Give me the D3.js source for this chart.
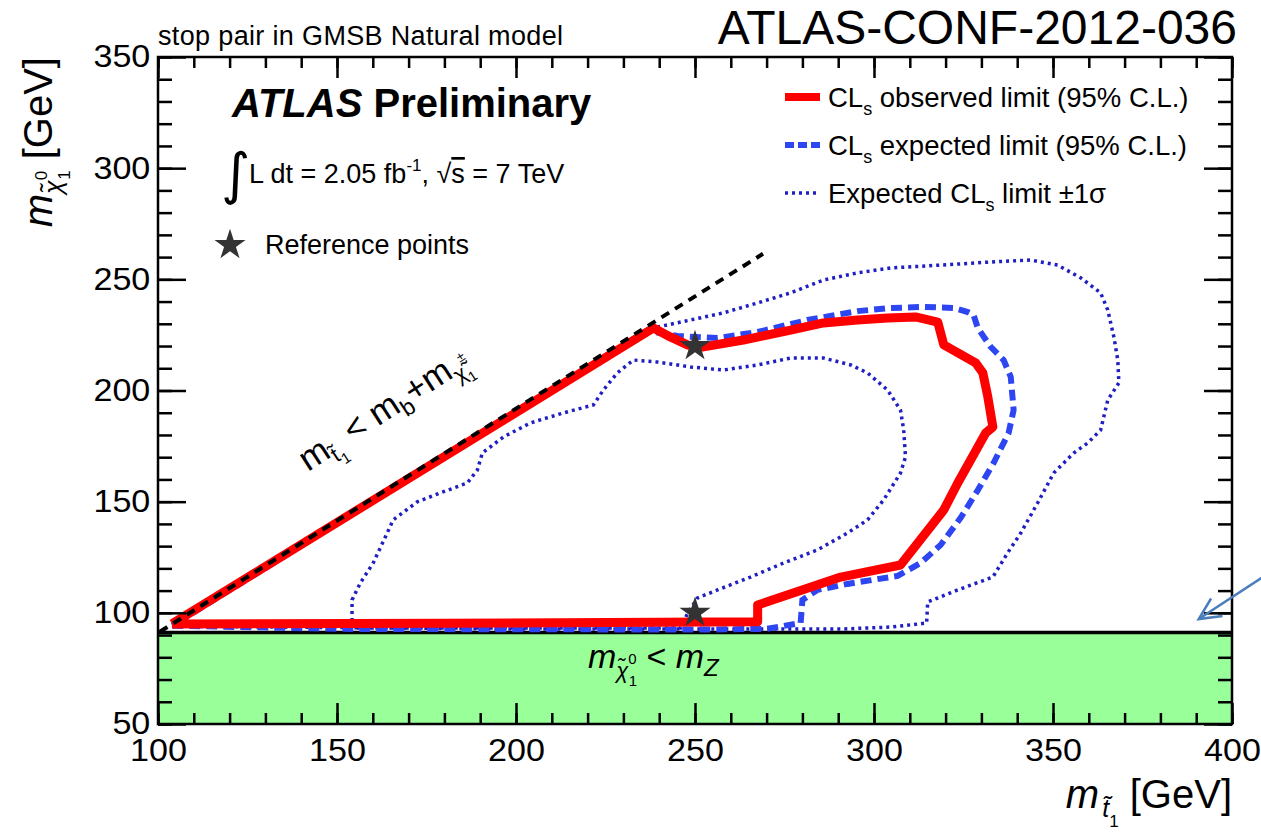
<!DOCTYPE html>
<html>
<head>
<meta charset="utf-8">
<script src="https://cdn.jsdelivr.net/npm/d3@7"></script>
<style>
body { margin: 0; background: #fff; }
svg { display: block; font-family: "Liberation Sans", Arial, Helvetica, sans-serif; }
</style>
</head>
<body>
<svg id="chart"></svg>
<script>
// axis ranges and labels
var xDomain = [100, 400];
var yDomain = [50, 350];
var xMajorTicks = [100, 150, 200, 250, 300, 350, 400];
var yMajorTicks = [50, 100, 150, 200, 250, 300, 350];

// Z mass (neutralino below this is excluded, green band)
var mZ = 91.2;

// kinematic limit m_stop = m_b + m_chargino
var kinematicLine = [[100.5, 91.5], [269, 261.5]];

// reference points (stars)
var referencePoints = [[250, 220], [250, 100]];

// observed CLs limit (red)
var observedLimit = [
  [103.9, 95.0], [180, 95.3], [267.5, 96.0], [267.5, 103.5], [290.7, 116.1],
  [307.4, 121.5], [319.5, 146.3], [323.4, 158.4], [331.2, 180.9], [333.2, 183.6],
  [331.8, 197.1], [330.4, 207.9], [328.4, 212.4], [319.5, 220.5], [317.8, 230.8],
  [311.6, 233.1], [303.8, 232.6], [295.4, 231.7], [285.9, 230.4], [276.7, 227.2],
  [263.5, 222.7], [252.4, 219.6], [247.9, 220.5], [243.1, 224.1], [238.4, 228.1],
  [103.9, 95.0]
];

// expected CLs limit (blue dashed)
var expectedLimit = [
  [104, 94.2], [150, 92.8], [200, 92.6], [255, 92.5], [270, 92.8], [279.5, 95.4],
  [280, 105.8], [284.2, 110.3], [292.6, 113.0], [306.6, 116.6], [313, 122.4],
  [318.6, 130.5], [324.2, 142.7], [329, 155.2], [333.4, 167.4], [337.6, 180.9],
  [339, 191.2], [338.2, 206.1], [336.2, 213.7], [332.6, 219.6], [329, 228.1],
  [327.8, 234], [326.2, 235.3], [322.3, 237.1], [313.9, 237.6], [304.6, 237.1],
  [295.4, 235.7], [281.4, 231.7], [267.5, 226.3], [256.3, 223.6], [245.1, 224.5],
  [240.3, 225.9], [236.5, 226.8], [104, 94.2]
];

// expected +1 sigma (outer dotted)
var expectedPlus1s = [
  [104, 94.0], [200, 92.7], [290.7, 92.7], [304.6, 93.6], [314.7, 95.4], [315, 104.9],
  [323.4, 110.3], [333.2, 116.1], [337.3, 126.9], [341, 135.9], [345.7, 149.4],
  [350.2, 162.9], [355.8, 171.9], [359.7, 176.4], [363.3, 182.2], [365.3, 195.7],
  [368.4, 203.4], [368.1, 213.7], [367, 224.1], [365.3, 236.2], [363.3, 243.9],
  [357.8, 250.6], [351.3, 256.4], [343.8, 258.7], [332.6, 257.8], [318.6, 256.4],
  [304.6, 255.1], [295.4, 252.9], [285.9, 249.7], [276.7, 243.9], [267.5, 239.4],
  [257.9, 234.9], [248.7, 231.7], [242.3, 229.5], [238, 228], [104, 94.0]
];

// expected -1 sigma (inner dotted)
var expectedMinus1s = [
  [154.2, 93.2], [154.2, 105.8], [156.5, 113.4], [160.1, 122.4], [163.5, 134.1],
  [165.7, 141.8], [172.4, 149.9], [178.8, 153.9], [186.4, 158.4], [189.2, 164.2],
  [190.6, 171.9], [196.5, 179.1], [204, 185.4], [213.2, 189.9], [221.6, 193.5],
  [224.4, 200.2], [228.3, 207.9], [232.8, 213.7], [239.5, 212.8], [248.7, 210.6],
  [257.9, 209.2], [267.5, 211.5], [276.7, 214.6], [285.9, 214.6], [293.5, 211.5],
  [298.2, 207.9], [303.8, 200.2], [307.4, 191.2], [308.3, 182.2], [308.8, 170.1],
  [307.4, 162.9], [302.7, 150.8], [298.2, 141.8], [292.6, 135.9], [284.2, 128.3],
  [274.7, 122.4], [265.5, 116.1], [256.3, 110.3], [250.7, 106.7], [248, 100],
  [246, 93.2], [200, 93.2], [154.2, 93.2]
];

// arrow annotation pointing at the mZ line (tail, tip)
var arrowPoints = [[409, 116.5], [390.7, 97.2]];

var W = 1261, H = 838;
var margin = {top: 57, left: 158};
var width = 1074, height = 667;

var svg = d3.select("#chart").attr("width", W).attr("height", H);

var x = d3.scaleLinear().domain(xDomain).range([0, width]);
var y = d3.scaleLinear().domain(yDomain).range([height, 0]);

var plot = svg.append("g")
  .attr("transform", "translate(" + margin.left + "," + margin.top + ")");

// green excluded band below mZ
plot.append("rect")
  .attr("x", 0).attr("y", y(mZ))
  .attr("width", width).attr("height", y(yDomain[0]) - y(mZ))
  .attr("fill", "#99ff99");

plot.append("line")
  .attr("x1", x(100)).attr("x2", x(400))
  .attr("y1", y(mZ)).attr("y2", y(mZ))
  .attr("stroke", "#000").attr("stroke-width", 3.5);

var line = d3.line().x(function(d){ return x(d[0]); }).y(function(d){ return y(d[1]); });

plot.append("path").datum(expectedPlus1s)
  .attr("d", line).attr("fill", "none")
  .attr("stroke", "#1f1fc4").attr("stroke-width", 3.5)
  .attr("stroke-dasharray", "3,4");

plot.append("path").datum(expectedMinus1s)
  .attr("d", line).attr("fill", "none")
  .attr("stroke", "#1f1fc4").attr("stroke-width", 3.5)
  .attr("stroke-dasharray", "3,4");

plot.append("path").datum(expectedLimit)
  .attr("d", line).attr("fill", "none")
  .attr("stroke", "#2e46f2").attr("stroke-width", 6)
  .attr("stroke-dasharray", "11,6");

plot.append("path").datum(observedLimit)
  .attr("d", line).attr("fill", "none")
  .attr("stroke", "#ff0000").attr("stroke-width", 9)
  .attr("stroke-linejoin", "round");

plot.append("path").datum(kinematicLine)
  .attr("d", line).attr("fill", "none")
  .attr("stroke", "#000").attr("stroke-width", 4)
  .attr("stroke-dasharray", "9,7");

var star = d3.symbol().type(d3.symbolStar).size(300);
plot.selectAll(".refpt").data(referencePoints).enter()
  .append("path").attr("class", "refpt")
  .attr("d", star)
  .attr("transform", function(d){ return "translate(" + x(d[0]) + "," + y(d[1]) + ")"; })
  .attr("fill", "#333");

// axes with inward ticks on all four sides
function styleAxis(g) {
  g.select(".domain").remove();
  g.selectAll(".tick line").attr("stroke", "#000").attr("stroke-width", 2.5);
  g.selectAll("text").attr("font-size", 31)
    .attr("font-family", "'Liberation Sans', Arial, sans-serif").attr("fill", "#000");
}

plot.append("g").attr("transform", "translate(0," + height + ")")
  .call(d3.axisBottom(x).tickValues(x.ticks(30)).tickSize(-11).tickFormat(""))
  .call(styleAxis);
plot.append("g").attr("transform", "translate(0," + height + ")")
  .call(d3.axisBottom(x).tickValues(xMajorTicks).tickSize(-21).tickPadding(15).tickFormat(d3.format("d")))
  .call(styleAxis)
  .selectAll("text").attr("transform", "scale(1.1,1)");
plot.append("g")
  .call(d3.axisTop(x).tickValues(x.ticks(30)).tickSize(-11).tickFormat(""))
  .call(styleAxis);
plot.append("g")
  .call(d3.axisTop(x).tickValues(xMajorTicks).tickSize(-21).tickFormat(""))
  .call(styleAxis);

plot.append("g")
  .call(d3.axisLeft(y).tickValues(y.ticks(30)).tickSize(-14).tickFormat(""))
  .call(styleAxis);
plot.append("g")
  .call(d3.axisLeft(y).tickValues(yMajorTicks).tickSize(-28).tickPadding(7).tickFormat(d3.format("d")))
  .call(styleAxis)
  .selectAll("text").attr("transform", "scale(1.1,1)");
plot.append("g").attr("transform", "translate(" + width + ",0)")
  .call(d3.axisRight(y).tickValues(y.ticks(30)).tickSize(-14).tickFormat(""))
  .call(styleAxis);
plot.append("g").attr("transform", "translate(" + width + ",0)")
  .call(d3.axisRight(y).tickValues(yMajorTicks).tickSize(-28).tickFormat(""))
  .call(styleAxis);

plot.append("rect")
  .attr("width", width).attr("height", height)
  .attr("fill", "none").attr("stroke", "#000").attr("stroke-width", 2.5);

// arrow annotation
var tail = [x(arrowPoints[0][0]), y(arrowPoints[0][1])];
var tip = [x(arrowPoints[1][0]), y(arrowPoints[1][1])];
var ang = Math.atan2(tail[1] - tip[1], tail[0] - tip[0]);
var wing = 24;
plot.append("line")
  .attr("x1", tail[0]).attr("y1", tail[1]).attr("x2", tip[0]).attr("y2", tip[1])
  .attr("stroke", "#4a7ebb").attr("stroke-width", 2.5);
plot.append("path")
  .attr("d", "M" + (tip[0] + wing * Math.cos(ang - 0.45)) + "," + (tip[1] + wing * Math.sin(ang - 0.45)) +
    "L" + tip[0] + "," + tip[1] +
    "L" + (tip[0] + wing * Math.cos(ang + 0.45)) + "," + (tip[1] + wing * Math.sin(ang + 0.45)))
  .attr("fill", "none").attr("stroke", "#4a7ebb").attr("stroke-width", 2.5);

// texts
svg.append("text").attr("x", 158).attr("y", 45).attr("font-size", 27)
  .attr("textLength", 405).text("stop pair in GMSB Natural model");

svg.append("text").attr("x", 1237).attr("y", 44).attr("font-size", 48)
  .attr("text-anchor", "end").text("ATLAS-CONF-2012-036");

var atl = svg.append("text").attr("x", 232).attr("y", 117).attr("font-size", 40).attr("font-weight", "bold");
atl.append("tspan").attr("font-style", "italic").text("ATLAS");
atl.append("tspan").text(" Preliminary");

svg.append("text").attr("x", 221).attr("y", 193).attr("font-size", 56)
  .attr("font-family", "'DejaVu Sans', sans-serif").text("∫");
var lumi = svg.append("text").attr("x", 249).attr("y", 183).attr("font-size", 27);
lumi.append("tspan").text("L dt = 2.05 fb");
lumi.append("tspan").attr("font-size", 17).attr("dy", -12).text("-1");
lumi.append("tspan").attr("dy", 12).text(", √");
lumi.append("tspan").style("text-decoration", "overline").text("s");
lumi.append("tspan").text(" = 7 TeV");

plot.append("path")
  .attr("d", star)
  .attr("transform", "translate(" + (230 - margin.left) + "," + (245 - margin.top) + ")")
  .attr("fill", "#333");
svg.append("text").attr("x", 265).attr("y", 254).attr("font-size", 27).text("Reference points");

// legend
var legendRows = [
  {main: "CL", sub: "s", rest: " observed limit (95% C.L.)", color: "#ff0000", w: 8, dash: null},
  {main: "CL", sub: "s", rest: " expected limit (95% C.L.)", color: "#2e46f2", w: 6, dash: "9,4"},
  {main: "Expected CL", sub: "s", rest: " limit ±1σ", color: "#1f1fc4", w: 3.5, dash: "3,4"}
];
legendRows.forEach(function(r, i) {
  var ly = 97 + i * 48;
  svg.append("line").attr("x1", 785).attr("x2", 820).attr("y1", ly).attr("y2", ly)
    .attr("stroke", r.color).attr("stroke-width", r.w)
    .attr("stroke-dasharray", r.dash);
  var t = svg.append("text").attr("x", 828).attr("y", ly + 10).attr("font-size", 27.5);
  t.append("tspan").text(r.main);
  t.append("tspan").attr("font-size", 18).attr("dy", 8).text(r.sub);
  t.append("tspan").attr("dy", -8).text(r.rest);
});

// axis titles
var yTitle = svg.append("text").attr("transform", "translate(52,57) rotate(-90)")
  .attr("text-anchor", "end").attr("font-size", 40);
yTitle.append("tspan").attr("font-style", "italic").text("m");
yTitle.append("tspan").attr("font-style", "italic").attr("font-size", 25).attr("dy", 10).text("χ̃");
yTitle.append("tspan").attr("font-size", 17).attr("dy", -15).text("0");
yTitle.append("tspan").attr("font-size", 17).attr("dx", -9).attr("dy", 23).text("1");
yTitle.append("tspan").attr("dy", -18).text(" [GeV]");

var xTitle = svg.append("text").attr("x", 1232).attr("y", 808)
  .attr("text-anchor", "end").attr("font-size", 40);
xTitle.append("tspan").attr("font-style", "italic").text("m");
xTitle.append("tspan").attr("font-style", "italic").attr("font-size", 25).attr("dx", 3).attr("dy", 9).text("t̃");
xTitle.append("tspan").attr("font-size", 17).attr("dy", 10).text("1");
xTitle.append("tspan").attr("dy", -19).text(" [GeV]");

// m_chi < m_Z label in the green band
var mzT = svg.append("text").attr("x", 588).attr("y", 668).attr("font-size", 34);
mzT.append("tspan").attr("font-style", "italic").text("m");
mzT.append("tspan").attr("font-style", "italic").attr("font-size", 22).attr("dy", 10).text("χ̃");
mzT.append("tspan").attr("font-size", 15).attr("dy", -14).text("0");
mzT.append("tspan").attr("font-size", 15).attr("dx", -8).attr("dy", 22).text("1");
mzT.append("tspan").attr("dy", -18).text(" < ");
mzT.append("tspan").attr("font-style", "italic").text("m");
mzT.append("tspan").attr("font-style", "italic").attr("font-size", 24).attr("dy", 8).text("Z");

// kinematic limit label along the diagonal
var kin = svg.append("text").attr("transform", "translate(308,472) rotate(-33)").attr("font-size", 35);
kin.append("tspan").text("m");
kin.append("tspan").attr("font-size", 22).attr("dy", 8).text("t̃");
kin.append("tspan").attr("font-size", 15).attr("dy", 6).text("1");
kin.append("tspan").attr("dy", -14).text(" < m");
kin.append("tspan").attr("font-size", 23).attr("dy", 8).text("b");
kin.append("tspan").attr("dy", -8).text("+m");
kin.append("tspan").attr("font-size", 22).attr("dy", 8).text("χ̃");
kin.append("tspan").attr("font-size", 14).attr("dy", -17).text("±");
kin.append("tspan").attr("font-size", 14).attr("dx", -8).attr("dy", 23).text("1");
</script>
</body>
</html>
